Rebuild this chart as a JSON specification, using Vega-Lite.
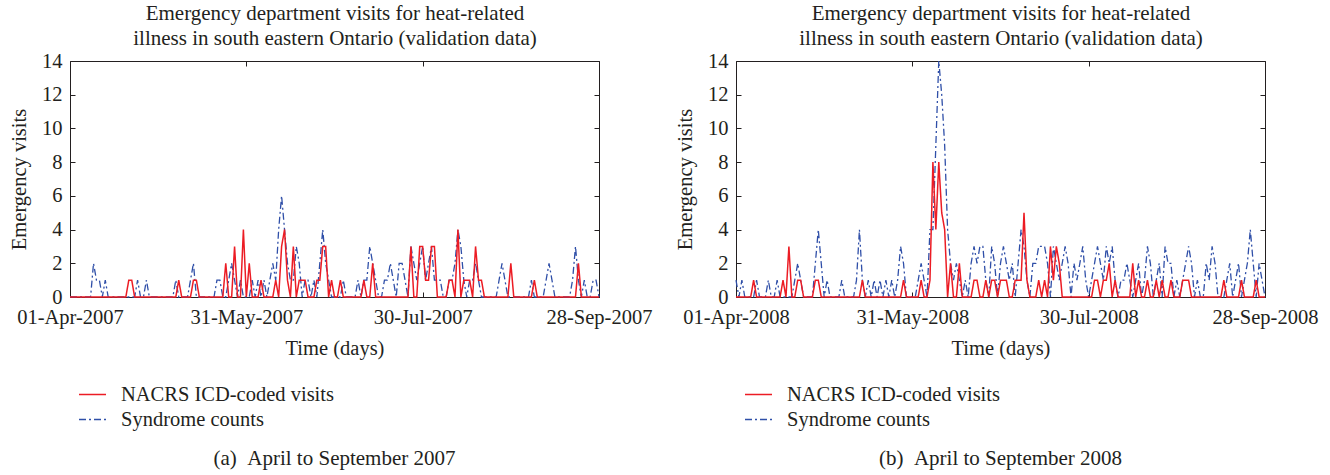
{
  "$schema": "https://vega.github.io/schema/vega-lite/v6.json",
  "background": "white",
  "padding": {"left": 9, "top": 2, "right": 5, "bottom": 5},
  "config": {
    "font": "Liberation Serif",
    "view": {"stroke": "#231f20", "strokeWidth": 1},
    "axis": {"grid": false, "domain": false, "labelFont": "Liberation Serif", "titleFont": "Liberation Serif", "labelFontSize": 20.5, "titleFontSize": 20.5, "titleFontWeight": "normal", "labelColor": "#231f20", "titleColor": "#231f20", "tickColor": "#231f20", "tickSize": -5, "labelPadding": 13},
    "title": {"font": "Liberation Serif", "fontSize": 21, "fontWeight": "normal", "color": "#231f20"},
    "legend": {"labelFont": "Liberation Serif", "labelFontSize": 20.5, "labelColor": "#231f20", "labelLimit": 0},
    "style": {"guide-label": {"font": "Liberation Serif"}, "guide-title": {"font": "Liberation Serif"}}
  },
  "datasets": {
    "y2007": [
      {"date":"2007-04-01","nacrs":0,"syndrome":0},{"date":"2007-04-02","nacrs":0,"syndrome":0},{"date":"2007-04-03","nacrs":0,"syndrome":0},{"date":"2007-04-04","nacrs":0,"syndrome":0},{"date":"2007-04-05","nacrs":0,"syndrome":0},{"date":"2007-04-06","nacrs":0,"syndrome":0},{"date":"2007-04-07","nacrs":0,"syndrome":0},{"date":"2007-04-08","nacrs":0,"syndrome":0},{"date":"2007-04-09","nacrs":0,"syndrome":2},{"date":"2007-04-10","nacrs":0,"syndrome":1},
      {"date":"2007-04-11","nacrs":0,"syndrome":1},{"date":"2007-04-12","nacrs":0,"syndrome":0},{"date":"2007-04-13","nacrs":0,"syndrome":1},{"date":"2007-04-14","nacrs":0,"syndrome":0},{"date":"2007-04-15","nacrs":0,"syndrome":0},{"date":"2007-04-16","nacrs":0,"syndrome":0},{"date":"2007-04-17","nacrs":0,"syndrome":0},{"date":"2007-04-18","nacrs":0,"syndrome":0},{"date":"2007-04-19","nacrs":0,"syndrome":0},{"date":"2007-04-20","nacrs":0,"syndrome":0},
      {"date":"2007-04-21","nacrs":1,"syndrome":0},{"date":"2007-04-22","nacrs":1,"syndrome":0},{"date":"2007-04-23","nacrs":0,"syndrome":0},{"date":"2007-04-24","nacrs":0,"syndrome":1},{"date":"2007-04-25","nacrs":0,"syndrome":0},{"date":"2007-04-26","nacrs":0,"syndrome":0},{"date":"2007-04-27","nacrs":0,"syndrome":1},{"date":"2007-04-28","nacrs":0,"syndrome":0},{"date":"2007-04-29","nacrs":0,"syndrome":0},{"date":"2007-04-30","nacrs":0,"syndrome":0},
      {"date":"2007-05-01","nacrs":0,"syndrome":0},{"date":"2007-05-02","nacrs":0,"syndrome":0},{"date":"2007-05-03","nacrs":0,"syndrome":0},{"date":"2007-05-04","nacrs":0,"syndrome":0},{"date":"2007-05-05","nacrs":0,"syndrome":0},{"date":"2007-05-06","nacrs":0,"syndrome":0},{"date":"2007-05-07","nacrs":0,"syndrome":1},{"date":"2007-05-08","nacrs":1,"syndrome":0},{"date":"2007-05-09","nacrs":0,"syndrome":0},{"date":"2007-05-10","nacrs":0,"syndrome":0},
      {"date":"2007-05-11","nacrs":0,"syndrome":0},{"date":"2007-05-12","nacrs":0,"syndrome":1},{"date":"2007-05-13","nacrs":1,"syndrome":2},{"date":"2007-05-14","nacrs":1,"syndrome":0},{"date":"2007-05-15","nacrs":0,"syndrome":0},{"date":"2007-05-16","nacrs":0,"syndrome":0},{"date":"2007-05-17","nacrs":0,"syndrome":0},{"date":"2007-05-18","nacrs":0,"syndrome":0},{"date":"2007-05-19","nacrs":0,"syndrome":0},{"date":"2007-05-20","nacrs":0,"syndrome":0},
      {"date":"2007-05-21","nacrs":0,"syndrome":1},{"date":"2007-05-22","nacrs":0,"syndrome":1},{"date":"2007-05-23","nacrs":0,"syndrome":0},{"date":"2007-05-24","nacrs":2,"syndrome":0},{"date":"2007-05-25","nacrs":0,"syndrome":1},{"date":"2007-05-26","nacrs":0,"syndrome":2},{"date":"2007-05-27","nacrs":3,"syndrome":1},{"date":"2007-05-28","nacrs":0,"syndrome":0},{"date":"2007-05-29","nacrs":0,"syndrome":1},{"date":"2007-05-30","nacrs":4,"syndrome":0},
      {"date":"2007-05-31","nacrs":0,"syndrome":0},
      {"date":"2007-06-01","nacrs":2,"syndrome":0},{"date":"2007-06-02","nacrs":0,"syndrome":1},{"date":"2007-06-03","nacrs":0,"syndrome":0},{"date":"2007-06-04","nacrs":0,"syndrome":1},{"date":"2007-06-05","nacrs":1,"syndrome":0},{"date":"2007-06-06","nacrs":0,"syndrome":1},{"date":"2007-06-07","nacrs":0,"syndrome":0},{"date":"2007-06-08","nacrs":0,"syndrome":1},{"date":"2007-06-09","nacrs":0,"syndrome":2},{"date":"2007-06-10","nacrs":1,"syndrome":1},
      {"date":"2007-06-11","nacrs":0,"syndrome":4},{"date":"2007-06-12","nacrs":3,"syndrome":6},{"date":"2007-06-13","nacrs":4,"syndrome":4},{"date":"2007-06-14","nacrs":1,"syndrome":2},{"date":"2007-06-15","nacrs":0,"syndrome":1},{"date":"2007-06-16","nacrs":3,"syndrome":1},{"date":"2007-06-17","nacrs":0,"syndrome":3},{"date":"2007-06-18","nacrs":1,"syndrome":2},{"date":"2007-06-19","nacrs":1,"syndrome":0},{"date":"2007-06-20","nacrs":1,"syndrome":1},
      {"date":"2007-06-21","nacrs":0,"syndrome":1},{"date":"2007-06-22","nacrs":0,"syndrome":0},{"date":"2007-06-23","nacrs":0,"syndrome":1},{"date":"2007-06-24","nacrs":1,"syndrome":0},{"date":"2007-06-25","nacrs":1,"syndrome":2},{"date":"2007-06-26","nacrs":3,"syndrome":4},{"date":"2007-06-27","nacrs":3,"syndrome":2},{"date":"2007-06-28","nacrs":0,"syndrome":1},{"date":"2007-06-29","nacrs":1,"syndrome":0},{"date":"2007-06-30","nacrs":0,"syndrome":0},
      {"date":"2007-07-01","nacrs":0,"syndrome":0},{"date":"2007-07-02","nacrs":1,"syndrome":0},{"date":"2007-07-03","nacrs":0,"syndrome":1},{"date":"2007-07-04","nacrs":0,"syndrome":0},{"date":"2007-07-05","nacrs":0,"syndrome":0},{"date":"2007-07-06","nacrs":0,"syndrome":0},{"date":"2007-07-07","nacrs":0,"syndrome":0},{"date":"2007-07-08","nacrs":0,"syndrome":1},{"date":"2007-07-09","nacrs":0,"syndrome":0},{"date":"2007-07-10","nacrs":1,"syndrome":1},
      {"date":"2007-07-11","nacrs":0,"syndrome":1},{"date":"2007-07-12","nacrs":0,"syndrome":3},{"date":"2007-07-13","nacrs":2,"syndrome":2},{"date":"2007-07-14","nacrs":0,"syndrome":1},{"date":"2007-07-15","nacrs":0,"syndrome":0},{"date":"2007-07-16","nacrs":0,"syndrome":0},{"date":"2007-07-17","nacrs":0,"syndrome":1},{"date":"2007-07-18","nacrs":0,"syndrome":1},{"date":"2007-07-19","nacrs":0,"syndrome":2},{"date":"2007-07-20","nacrs":0,"syndrome":1},
      {"date":"2007-07-21","nacrs":0,"syndrome":0},{"date":"2007-07-22","nacrs":0,"syndrome":2},{"date":"2007-07-23","nacrs":0,"syndrome":2},{"date":"2007-07-24","nacrs":0,"syndrome":1},{"date":"2007-07-25","nacrs":0,"syndrome":0},{"date":"2007-07-26","nacrs":3,"syndrome":3},{"date":"2007-07-27","nacrs":0,"syndrome":2},{"date":"2007-07-28","nacrs":0,"syndrome":1},{"date":"2007-07-29","nacrs":3,"syndrome":2},{"date":"2007-07-30","nacrs":3,"syndrome":3},
      {"date":"2007-07-31","nacrs":1,"syndrome":1},
      {"date":"2007-08-01","nacrs":1,"syndrome":2},{"date":"2007-08-02","nacrs":3,"syndrome":3},{"date":"2007-08-03","nacrs":3,"syndrome":1},{"date":"2007-08-04","nacrs":0,"syndrome":1},{"date":"2007-08-05","nacrs":0,"syndrome":1},{"date":"2007-08-06","nacrs":0,"syndrome":0},{"date":"2007-08-07","nacrs":0,"syndrome":0},{"date":"2007-08-08","nacrs":1,"syndrome":1},{"date":"2007-08-09","nacrs":1,"syndrome":1},{"date":"2007-08-10","nacrs":0,"syndrome":2},
      {"date":"2007-08-11","nacrs":4,"syndrome":4},{"date":"2007-08-12","nacrs":0,"syndrome":3},{"date":"2007-08-13","nacrs":1,"syndrome":1},{"date":"2007-08-14","nacrs":1,"syndrome":0},{"date":"2007-08-15","nacrs":1,"syndrome":1},{"date":"2007-08-16","nacrs":0,"syndrome":1},{"date":"2007-08-17","nacrs":3,"syndrome":2},{"date":"2007-08-18","nacrs":1,"syndrome":1},{"date":"2007-08-19","nacrs":1,"syndrome":0},{"date":"2007-08-20","nacrs":0,"syndrome":0},
      {"date":"2007-08-21","nacrs":0,"syndrome":0},{"date":"2007-08-22","nacrs":0,"syndrome":0},{"date":"2007-08-23","nacrs":0,"syndrome":0},{"date":"2007-08-24","nacrs":0,"syndrome":0},{"date":"2007-08-25","nacrs":0,"syndrome":1},{"date":"2007-08-26","nacrs":0,"syndrome":2},{"date":"2007-08-27","nacrs":0,"syndrome":1},{"date":"2007-08-28","nacrs":0,"syndrome":0},{"date":"2007-08-29","nacrs":2,"syndrome":0},{"date":"2007-08-30","nacrs":0,"syndrome":0},
      {"date":"2007-08-31","nacrs":0,"syndrome":0},
      {"date":"2007-09-01","nacrs":0,"syndrome":0},{"date":"2007-09-02","nacrs":0,"syndrome":0},{"date":"2007-09-03","nacrs":0,"syndrome":0},{"date":"2007-09-04","nacrs":0,"syndrome":0},{"date":"2007-09-05","nacrs":0,"syndrome":1},{"date":"2007-09-06","nacrs":1,"syndrome":0},{"date":"2007-09-07","nacrs":0,"syndrome":0},{"date":"2007-09-08","nacrs":0,"syndrome":0},{"date":"2007-09-09","nacrs":0,"syndrome":0},{"date":"2007-09-10","nacrs":0,"syndrome":1},
      {"date":"2007-09-11","nacrs":0,"syndrome":2},{"date":"2007-09-12","nacrs":0,"syndrome":1},{"date":"2007-09-13","nacrs":0,"syndrome":0},{"date":"2007-09-14","nacrs":0,"syndrome":0},{"date":"2007-09-15","nacrs":0,"syndrome":0},{"date":"2007-09-16","nacrs":0,"syndrome":0},{"date":"2007-09-17","nacrs":0,"syndrome":0},{"date":"2007-09-18","nacrs":0,"syndrome":0},{"date":"2007-09-19","nacrs":0,"syndrome":1},{"date":"2007-09-20","nacrs":0,"syndrome":3},
      {"date":"2007-09-21","nacrs":2,"syndrome":1},{"date":"2007-09-22","nacrs":0,"syndrome":0},{"date":"2007-09-23","nacrs":0,"syndrome":1},{"date":"2007-09-24","nacrs":0,"syndrome":0},{"date":"2007-09-25","nacrs":0,"syndrome":0},{"date":"2007-09-26","nacrs":0,"syndrome":1},{"date":"2007-09-27","nacrs":0,"syndrome":1},{"date":"2007-09-28","nacrs":0,"syndrome":0}
    ],
    "y2008": [
      {"date":"2008-04-01","nacrs":0,"syndrome":1},{"date":"2008-04-02","nacrs":0,"syndrome":0},{"date":"2008-04-03","nacrs":0,"syndrome":1},{"date":"2008-04-04","nacrs":0,"syndrome":0},{"date":"2008-04-05","nacrs":0,"syndrome":0},{"date":"2008-04-06","nacrs":0,"syndrome":0},{"date":"2008-04-07","nacrs":1,"syndrome":0},{"date":"2008-04-08","nacrs":0,"syndrome":1},{"date":"2008-04-09","nacrs":0,"syndrome":0},{"date":"2008-04-10","nacrs":0,"syndrome":0},
      {"date":"2008-04-11","nacrs":0,"syndrome":0},{"date":"2008-04-12","nacrs":0,"syndrome":1},{"date":"2008-04-13","nacrs":0,"syndrome":0},{"date":"2008-04-14","nacrs":0,"syndrome":0},{"date":"2008-04-15","nacrs":0,"syndrome":1},{"date":"2008-04-16","nacrs":0,"syndrome":0},{"date":"2008-04-17","nacrs":1,"syndrome":0},{"date":"2008-04-18","nacrs":0,"syndrome":0},{"date":"2008-04-19","nacrs":3,"syndrome":0},{"date":"2008-04-20","nacrs":0,"syndrome":0},
      {"date":"2008-04-21","nacrs":0,"syndrome":1},{"date":"2008-04-22","nacrs":1,"syndrome":2},{"date":"2008-04-23","nacrs":1,"syndrome":1},{"date":"2008-04-24","nacrs":0,"syndrome":0},{"date":"2008-04-25","nacrs":0,"syndrome":0},{"date":"2008-04-26","nacrs":0,"syndrome":0},{"date":"2008-04-27","nacrs":0,"syndrome":0},{"date":"2008-04-28","nacrs":1,"syndrome":2},{"date":"2008-04-29","nacrs":1,"syndrome":4},{"date":"2008-04-30","nacrs":0,"syndrome":2},
      {"date":"2008-05-01","nacrs":0,"syndrome":0},{"date":"2008-05-02","nacrs":0,"syndrome":1},{"date":"2008-05-03","nacrs":0,"syndrome":0},{"date":"2008-05-04","nacrs":0,"syndrome":0},{"date":"2008-05-05","nacrs":0,"syndrome":0},{"date":"2008-05-06","nacrs":0,"syndrome":0},{"date":"2008-05-07","nacrs":0,"syndrome":1},{"date":"2008-05-08","nacrs":0,"syndrome":0},{"date":"2008-05-09","nacrs":0,"syndrome":0},{"date":"2008-05-10","nacrs":0,"syndrome":0},
      {"date":"2008-05-11","nacrs":0,"syndrome":0},{"date":"2008-05-12","nacrs":0,"syndrome":1},{"date":"2008-05-13","nacrs":0,"syndrome":4},{"date":"2008-05-14","nacrs":1,"syndrome":1},{"date":"2008-05-15","nacrs":0,"syndrome":0},{"date":"2008-05-16","nacrs":0,"syndrome":1},{"date":"2008-05-17","nacrs":0,"syndrome":0},{"date":"2008-05-18","nacrs":0,"syndrome":1},{"date":"2008-05-19","nacrs":0,"syndrome":0},{"date":"2008-05-20","nacrs":0,"syndrome":1},
      {"date":"2008-05-21","nacrs":0,"syndrome":0},{"date":"2008-05-22","nacrs":0,"syndrome":1},{"date":"2008-05-23","nacrs":0,"syndrome":0},{"date":"2008-05-24","nacrs":0,"syndrome":1},{"date":"2008-05-25","nacrs":0,"syndrome":0},{"date":"2008-05-26","nacrs":0,"syndrome":1},{"date":"2008-05-27","nacrs":0,"syndrome":3},{"date":"2008-05-28","nacrs":1,"syndrome":2},{"date":"2008-05-29","nacrs":0,"syndrome":0},{"date":"2008-05-30","nacrs":0,"syndrome":0},
      {"date":"2008-05-31","nacrs":0,"syndrome":0},
      {"date":"2008-06-01","nacrs":0,"syndrome":0},{"date":"2008-06-02","nacrs":0,"syndrome":1},{"date":"2008-06-03","nacrs":1,"syndrome":2},{"date":"2008-06-04","nacrs":0,"syndrome":1},{"date":"2008-06-05","nacrs":0,"syndrome":0},{"date":"2008-06-06","nacrs":1,"syndrome":4},{"date":"2008-06-07","nacrs":8,"syndrome":4},{"date":"2008-06-08","nacrs":4,"syndrome":9},{"date":"2008-06-09","nacrs":8,"syndrome":14},{"date":"2008-06-10","nacrs":5,"syndrome":12},
      {"date":"2008-06-11","nacrs":4,"syndrome":9},{"date":"2008-06-12","nacrs":0,"syndrome":4},{"date":"2008-06-13","nacrs":2,"syndrome":2},{"date":"2008-06-14","nacrs":0,"syndrome":1},{"date":"2008-06-15","nacrs":0,"syndrome":2},{"date":"2008-06-16","nacrs":2,"syndrome":1},{"date":"2008-06-17","nacrs":0,"syndrome":0},{"date":"2008-06-18","nacrs":0,"syndrome":1},{"date":"2008-06-19","nacrs":0,"syndrome":0},{"date":"2008-06-20","nacrs":0,"syndrome":2},
      {"date":"2008-06-21","nacrs":1,"syndrome":3},{"date":"2008-06-22","nacrs":1,"syndrome":2},{"date":"2008-06-23","nacrs":0,"syndrome":3},{"date":"2008-06-24","nacrs":0,"syndrome":3},{"date":"2008-06-25","nacrs":1,"syndrome":1},{"date":"2008-06-26","nacrs":0,"syndrome":0},{"date":"2008-06-27","nacrs":1,"syndrome":3},{"date":"2008-06-28","nacrs":1,"syndrome":2},{"date":"2008-06-29","nacrs":0,"syndrome":0},{"date":"2008-06-30","nacrs":1,"syndrome":2},
      {"date":"2008-07-01","nacrs":1,"syndrome":3},{"date":"2008-07-02","nacrs":1,"syndrome":2},{"date":"2008-07-03","nacrs":0,"syndrome":1},{"date":"2008-07-04","nacrs":0,"syndrome":2},{"date":"2008-07-05","nacrs":1,"syndrome":0},{"date":"2008-07-06","nacrs":1,"syndrome":2},{"date":"2008-07-07","nacrs":1,"syndrome":4},{"date":"2008-07-08","nacrs":5,"syndrome":3},{"date":"2008-07-09","nacrs":1,"syndrome":1},{"date":"2008-07-10","nacrs":0,"syndrome":0},
      {"date":"2008-07-11","nacrs":0,"syndrome":2},{"date":"2008-07-12","nacrs":0,"syndrome":2},{"date":"2008-07-13","nacrs":1,"syndrome":3},{"date":"2008-07-14","nacrs":0,"syndrome":3},{"date":"2008-07-15","nacrs":1,"syndrome":3},{"date":"2008-07-16","nacrs":0,"syndrome":2},{"date":"2008-07-17","nacrs":3,"syndrome":0},{"date":"2008-07-18","nacrs":1,"syndrome":3},{"date":"2008-07-19","nacrs":3,"syndrome":2},{"date":"2008-07-20","nacrs":2,"syndrome":1},
      {"date":"2008-07-21","nacrs":0,"syndrome":2},{"date":"2008-07-22","nacrs":0,"syndrome":3},{"date":"2008-07-23","nacrs":0,"syndrome":2},{"date":"2008-07-24","nacrs":0,"syndrome":0},{"date":"2008-07-25","nacrs":0,"syndrome":2},{"date":"2008-07-26","nacrs":0,"syndrome":1},{"date":"2008-07-27","nacrs":0,"syndrome":2},{"date":"2008-07-28","nacrs":0,"syndrome":3},{"date":"2008-07-29","nacrs":0,"syndrome":1},{"date":"2008-07-30","nacrs":0,"syndrome":0},
      {"date":"2008-07-31","nacrs":0,"syndrome":1},
      {"date":"2008-08-01","nacrs":1,"syndrome":2},{"date":"2008-08-02","nacrs":1,"syndrome":3},{"date":"2008-08-03","nacrs":0,"syndrome":2},{"date":"2008-08-04","nacrs":1,"syndrome":1},{"date":"2008-08-05","nacrs":1,"syndrome":3},{"date":"2008-08-06","nacrs":2,"syndrome":2},{"date":"2008-08-07","nacrs":0,"syndrome":3},{"date":"2008-08-08","nacrs":1,"syndrome":1},{"date":"2008-08-09","nacrs":0,"syndrome":0},{"date":"2008-08-10","nacrs":0,"syndrome":1},
      {"date":"2008-08-11","nacrs":0,"syndrome":1},{"date":"2008-08-12","nacrs":0,"syndrome":2},{"date":"2008-08-13","nacrs":0,"syndrome":1},{"date":"2008-08-14","nacrs":2,"syndrome":0},{"date":"2008-08-15","nacrs":0,"syndrome":1},{"date":"2008-08-16","nacrs":1,"syndrome":2},{"date":"2008-08-17","nacrs":0,"syndrome":0},{"date":"2008-08-18","nacrs":0,"syndrome":1},{"date":"2008-08-19","nacrs":1,"syndrome":3},{"date":"2008-08-20","nacrs":0,"syndrome":2},
      {"date":"2008-08-21","nacrs":0,"syndrome":0},{"date":"2008-08-22","nacrs":1,"syndrome":1},{"date":"2008-08-23","nacrs":0,"syndrome":2},{"date":"2008-08-24","nacrs":1,"syndrome":0},{"date":"2008-08-25","nacrs":0,"syndrome":3},{"date":"2008-08-26","nacrs":0,"syndrome":2},{"date":"2008-08-27","nacrs":1,"syndrome":2},{"date":"2008-08-28","nacrs":0,"syndrome":0},{"date":"2008-08-29","nacrs":0,"syndrome":1},{"date":"2008-08-30","nacrs":0,"syndrome":0},
      {"date":"2008-08-31","nacrs":1,"syndrome":1},
      {"date":"2008-09-01","nacrs":1,"syndrome":2},{"date":"2008-09-02","nacrs":1,"syndrome":3},{"date":"2008-09-03","nacrs":0,"syndrome":2},{"date":"2008-09-04","nacrs":0,"syndrome":0},{"date":"2008-09-05","nacrs":0,"syndrome":1},{"date":"2008-09-06","nacrs":0,"syndrome":0},{"date":"2008-09-07","nacrs":0,"syndrome":0},{"date":"2008-09-08","nacrs":0,"syndrome":2},{"date":"2008-09-09","nacrs":0,"syndrome":1},{"date":"2008-09-10","nacrs":0,"syndrome":3},
      {"date":"2008-09-11","nacrs":0,"syndrome":2},{"date":"2008-09-12","nacrs":0,"syndrome":0},{"date":"2008-09-13","nacrs":0,"syndrome":0},{"date":"2008-09-14","nacrs":1,"syndrome":0},{"date":"2008-09-15","nacrs":0,"syndrome":1},{"date":"2008-09-16","nacrs":0,"syndrome":2},{"date":"2008-09-17","nacrs":0,"syndrome":0},{"date":"2008-09-18","nacrs":0,"syndrome":1},{"date":"2008-09-19","nacrs":0,"syndrome":2},{"date":"2008-09-20","nacrs":1,"syndrome":0},
      {"date":"2008-09-21","nacrs":0,"syndrome":1},{"date":"2008-09-22","nacrs":0,"syndrome":2},{"date":"2008-09-23","nacrs":0,"syndrome":4},{"date":"2008-09-24","nacrs":0,"syndrome":2},{"date":"2008-09-25","nacrs":1,"syndrome":0},{"date":"2008-09-26","nacrs":0,"syndrome":2},{"date":"2008-09-27","nacrs":0,"syndrome":1},{"date":"2008-09-28","nacrs":0,"syndrome":0}
    ]
  },
  "bounds": "flush",
  "spacing": 137,
  "resolve": {"scale": {"color": "independent", "strokeDash": "independent"}},
  "hconcat": [
    {
      "width": 529,
      "height": 236,
      "title": {"text": "(a)\u00a0\u00a0April to September 2007", "orient": "bottom", "anchor": "middle", "offset": 18},
      "data": {"name": "y2007"},
      "transform": [{"fold": ["nacrs", "syndrome"], "as": ["series", "visits"]}],
      "layer": [
        {
          "transform": [{"filter": "datum.series == 'syndrome'"}],
          "mark": {"type": "line", "strokeWidth": 1.3},
          "encoding": {
            "x": {"field": "date", "type": "temporal", "scale": {"type": "utc", "domain": [{"year": 2007, "month": 4, "date": 1, "utc": true}, {"year": 2007, "month": 9, "date": 28, "utc": true}]}, "axis": {"orient": "top", "labels": false, "title": ["Emergency department visits for heat-related", "illness in south eastern Ontario (validation data)"], "titleFontSize": 21, "titleLineHeight": 25, "titlePadding": 12, "values": [{"year": 2007, "month": 4, "date": 1, "utc": true}, {"year": 2007, "month": 5, "date": 31, "utc": true}, {"year": 2007, "month": 7, "date": 30, "utc": true}, {"year": 2007, "month": 9, "date": 28, "utc": true}]}},
            "y": {"field": "visits", "type": "quantitative", "scale": {"domain": [0, 14]}, "axis": {"orient": "right", "labels": false, "title": null, "values": [0, 2, 4, 6, 8, 10, 12, 14]}},
            "color": {"field": "series", "type": "nominal", "scale": {"domain": ["nacrs", "syndrome"], "range": ["#ec1c24", "#2f4fa8"]}, "legend": {"title": null, "orient": "none", "legendX": 8, "legendY": 319, "symbolType": "stroke", "symbolSize": 729, "symbolStrokeWidth": 1.4, "labelOffset": 14, "rowPadding": 0, "labelFont": "Liberation Serif", "labelFontSize": 20.5, "labelColor": "#231f20", "labelLimit": 0, "labelExpr": "datum.value == 'nacrs' ? 'NACRS ICD-coded visits' : 'Syndrome counts'", "encode": {"labels": {"update": {"font": {"value": "Liberation Serif"}}}}}},
            "strokeDash": {"field": "series", "type": "nominal", "scale": {"domain": ["nacrs", "syndrome"], "range": [[1, 0], [7, 3, 2, 3]]}, "legend": {"title": null, "orient": "none", "legendX": 8, "legendY": 319, "symbolType": "stroke", "symbolSize": 729, "symbolStrokeWidth": 1.4, "labelOffset": 14, "rowPadding": 0, "labelFont": "Liberation Serif", "labelFontSize": 20.5, "labelColor": "#231f20", "labelLimit": 0, "labelExpr": "datum.value == 'nacrs' ? 'NACRS ICD-coded visits' : 'Syndrome counts'", "encode": {"labels": {"update": {"font": {"value": "Liberation Serif"}}}}}}
          }
        },
        {
          "transform": [{"filter": "datum.series == 'nacrs'"}],
          "mark": {"type": "line", "strokeWidth": 1.5},
          "encoding": {
            "x": {"field": "date", "type": "temporal", "scale": {"type": "utc", "domain": [{"year": 2007, "month": 4, "date": 1, "utc": true}, {"year": 2007, "month": 9, "date": 28, "utc": true}]}, "axis": {"orient": "bottom", "title": "Time (days)", "titlePadding": 11, "labelPadding": 15, "format": "%d-%b-%Y", "labelFlush": false, "values": [{"year": 2007, "month": 4, "date": 1, "utc": true}, {"year": 2007, "month": 5, "date": 31, "utc": true}, {"year": 2007, "month": 7, "date": 30, "utc": true}, {"year": 2007, "month": 9, "date": 28, "utc": true}]}},
            "y": {"field": "visits", "type": "quantitative", "scale": {"domain": [0, 14]}, "axis": {"orient": "left", "title": "Emergency visits", "titlePadding": 12, "values": [0, 2, 4, 6, 8, 10, 12, 14]}},
            "color": {"field": "series", "type": "nominal", "scale": {"domain": ["nacrs", "syndrome"], "range": ["#ec1c24", "#2f4fa8"]}, "legend": {"title": null, "orient": "none", "legendX": 8, "legendY": 319, "symbolType": "stroke", "symbolSize": 729, "symbolStrokeWidth": 1.4, "labelOffset": 14, "rowPadding": 0, "labelFont": "Liberation Serif", "labelFontSize": 20.5, "labelColor": "#231f20", "labelLimit": 0, "labelExpr": "datum.value == 'nacrs' ? 'NACRS ICD-coded visits' : 'Syndrome counts'", "encode": {"labels": {"update": {"font": {"value": "Liberation Serif"}}}}}},
            "strokeDash": {"field": "series", "type": "nominal", "scale": {"domain": ["nacrs", "syndrome"], "range": [[1, 0], [7, 3, 2, 3]]}, "legend": {"title": null, "orient": "none", "legendX": 8, "legendY": 319, "symbolType": "stroke", "symbolSize": 729, "symbolStrokeWidth": 1.4, "labelOffset": 14, "rowPadding": 0, "labelFont": "Liberation Serif", "labelFontSize": 20.5, "labelColor": "#231f20", "labelLimit": 0, "labelExpr": "datum.value == 'nacrs' ? 'NACRS ICD-coded visits' : 'Syndrome counts'", "encode": {"labels": {"update": {"font": {"value": "Liberation Serif"}}}}}}
          }
        }
      ],
      "resolve": {"axis": {"x": "independent", "y": "independent"}}
    },
    {
      "width": 529,
      "height": 236,
      "title": {"text": "(b)\u00a0\u00a0April to September 2008", "orient": "bottom", "anchor": "middle", "offset": 18},
      "data": {"name": "y2008"},
      "transform": [{"fold": ["nacrs", "syndrome"], "as": ["series", "visits"]}],
      "layer": [
        {
          "transform": [{"filter": "datum.series == 'syndrome'"}],
          "mark": {"type": "line", "strokeWidth": 1.3},
          "encoding": {
            "x": {"field": "date", "type": "temporal", "scale": {"type": "utc", "domain": [{"year": 2008, "month": 4, "date": 1, "utc": true}, {"year": 2008, "month": 9, "date": 28, "utc": true}]}, "axis": {"orient": "top", "labels": false, "title": ["Emergency department visits for heat-related", "illness in south eastern Ontario (validation data)"], "titleFontSize": 21, "titleLineHeight": 25, "titlePadding": 12, "values": [{"year": 2008, "month": 4, "date": 1, "utc": true}, {"year": 2008, "month": 5, "date": 31, "utc": true}, {"year": 2008, "month": 7, "date": 30, "utc": true}, {"year": 2008, "month": 9, "date": 28, "utc": true}]}},
            "y": {"field": "visits", "type": "quantitative", "scale": {"domain": [0, 14]}, "axis": {"orient": "right", "labels": false, "title": null, "values": [0, 2, 4, 6, 8, 10, 12, 14]}},
            "color": {"field": "series", "type": "nominal", "scale": {"domain": ["nacrs", "syndrome"], "range": ["#ec1c24", "#2f4fa8"]}, "legend": {"title": null, "orient": "none", "legendX": 8, "legendY": 319, "symbolType": "stroke", "symbolSize": 729, "symbolStrokeWidth": 1.4, "labelOffset": 14, "rowPadding": 0, "labelFont": "Liberation Serif", "labelFontSize": 20.5, "labelColor": "#231f20", "labelLimit": 0, "labelExpr": "datum.value == 'nacrs' ? 'NACRS ICD-coded visits' : 'Syndrome counts'", "encode": {"labels": {"update": {"font": {"value": "Liberation Serif"}}}}}},
            "strokeDash": {"field": "series", "type": "nominal", "scale": {"domain": ["nacrs", "syndrome"], "range": [[1, 0], [7, 3, 2, 3]]}, "legend": {"title": null, "orient": "none", "legendX": 8, "legendY": 319, "symbolType": "stroke", "symbolSize": 729, "symbolStrokeWidth": 1.4, "labelOffset": 14, "rowPadding": 0, "labelFont": "Liberation Serif", "labelFontSize": 20.5, "labelColor": "#231f20", "labelLimit": 0, "labelExpr": "datum.value == 'nacrs' ? 'NACRS ICD-coded visits' : 'Syndrome counts'", "encode": {"labels": {"update": {"font": {"value": "Liberation Serif"}}}}}}
          }
        },
        {
          "transform": [{"filter": "datum.series == 'nacrs'"}],
          "mark": {"type": "line", "strokeWidth": 1.5},
          "encoding": {
            "x": {"field": "date", "type": "temporal", "scale": {"type": "utc", "domain": [{"year": 2008, "month": 4, "date": 1, "utc": true}, {"year": 2008, "month": 9, "date": 28, "utc": true}]}, "axis": {"orient": "bottom", "title": "Time (days)", "titlePadding": 11, "labelPadding": 15, "format": "%d-%b-%Y", "labelFlush": false, "values": [{"year": 2008, "month": 4, "date": 1, "utc": true}, {"year": 2008, "month": 5, "date": 31, "utc": true}, {"year": 2008, "month": 7, "date": 30, "utc": true}, {"year": 2008, "month": 9, "date": 28, "utc": true}]}},
            "y": {"field": "visits", "type": "quantitative", "scale": {"domain": [0, 14]}, "axis": {"orient": "left", "title": "Emergency visits", "titlePadding": 12, "values": [0, 2, 4, 6, 8, 10, 12, 14]}},
            "color": {"field": "series", "type": "nominal", "scale": {"domain": ["nacrs", "syndrome"], "range": ["#ec1c24", "#2f4fa8"]}, "legend": {"title": null, "orient": "none", "legendX": 8, "legendY": 319, "symbolType": "stroke", "symbolSize": 729, "symbolStrokeWidth": 1.4, "labelOffset": 14, "rowPadding": 0, "labelFont": "Liberation Serif", "labelFontSize": 20.5, "labelColor": "#231f20", "labelLimit": 0, "labelExpr": "datum.value == 'nacrs' ? 'NACRS ICD-coded visits' : 'Syndrome counts'", "encode": {"labels": {"update": {"font": {"value": "Liberation Serif"}}}}}},
            "strokeDash": {"field": "series", "type": "nominal", "scale": {"domain": ["nacrs", "syndrome"], "range": [[1, 0], [7, 3, 2, 3]]}, "legend": {"title": null, "orient": "none", "legendX": 8, "legendY": 319, "symbolType": "stroke", "symbolSize": 729, "symbolStrokeWidth": 1.4, "labelOffset": 14, "rowPadding": 0, "labelFont": "Liberation Serif", "labelFontSize": 20.5, "labelColor": "#231f20", "labelLimit": 0, "labelExpr": "datum.value == 'nacrs' ? 'NACRS ICD-coded visits' : 'Syndrome counts'", "encode": {"labels": {"update": {"font": {"value": "Liberation Serif"}}}}}}
          }
        }
      ],
      "resolve": {"axis": {"x": "independent", "y": "independent"}}
    }
  ]
}
